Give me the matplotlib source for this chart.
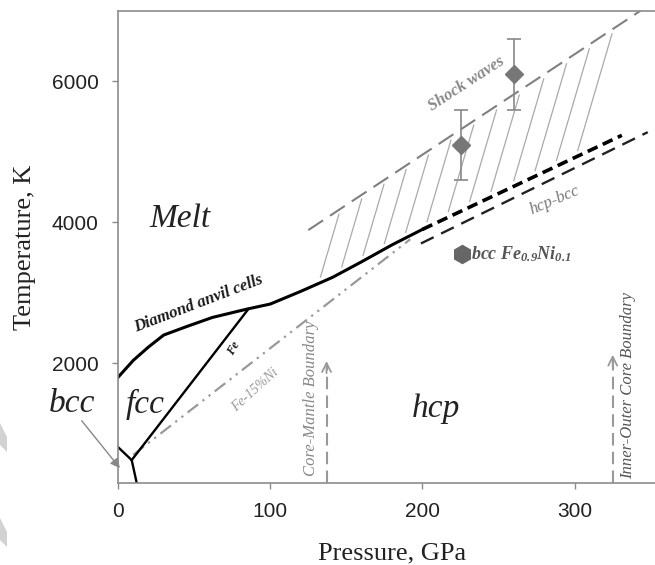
import numpy as np
import matplotlib
matplotlib.use('Agg')
import matplotlib.pyplot as plt
from matplotlib.patches import Polygon

plt.rcParams['font.family'] = ['Liberation Serif', 'DejaVu Serif']
plt.rcParams['mathtext.fontset'] = 'custom'
plt.rcParams['mathtext.rm'] = 'Liberation Serif:italic:bold'
plt.rcParams['mathtext.it'] = 'Liberation Serif:italic:bold'
plt.rcParams['mathtext.bf'] = 'Liberation Serif:italic:bold'

# melting curve from diamond anvil cells (solid) and its extrapolation (thick dashes)
melt_p = [0, 10, 20, 30, 45, 62, 85, 100, 120, 141, 160, 180, 200]
melt_t = [1800, 2040, 2230, 2400, 2520, 2650, 2770, 2840, 3020, 3220, 3440, 3680, 3900]
melt_ext_p = [200, 331]
melt_ext_t = [3900, 5235]

# hcp-bcc boundary
hcpbcc_p = [199, 348]
hcpbcc_t = [3700, 5280]

# upper bound of shock wave melting
shock_p = [125, 343]
shock_t = [3890, 7000]

# fcc-hcp for Fe and Fe-15%Ni
fe_p = [9, 85.5]
fe_t = [625, 2765]
feni_p = [10, 192]
feni_t = [700, 3760]

# bcc boundaries near the origin
bcc_fcc_p = [0, 9]
bcc_fcc_t = [810, 625]
bcc_hcp_p = [9, 12.3]
bcc_hcp_t = [625, 300]

# shock wave points
sw_p = [225, 260]
sw_t = [5100, 6100]
sw_err = [500, 500]

# bcc Fe0.9Ni0.1
bccni_p = [226]
bccni_t = [3546]

# core boundaries (pressure, top of arrow)
cmb_p, cmb_t = 137, 2070
icb_p, icb_t = 325, 2160

# hatch lines of the shock wave band (start pressures)
hatch_p = [133, 147, 161, 175, 189, 203, 217, 231, 245, 260, 274, 288, 302]

fig = plt.figure(figsize=(6.55, 5.65), dpi=100)
ax = fig.add_axes([118 / 655, 82 / 565, 548 / 655, 472 / 565])
ax.set_xlim(0, 360)
ax.set_ylim(300, 7000)

# watermark bits on the left edge
for y0 in (423, 518):
    pts = [(0, 1 - y0 / 565), (7 / 655, 1 - (y0 + 14) / 565),
           (7 / 655, 1 - (y0 + 29) / 565), (0, 1 - (y0 + 22) / 565)]
    fig.patches.append(Polygon(pts, closed=True, transform=fig.transFigure,
                               color='#d2d2d2', lw=0))

# hatching between melting curve and shock upper bound
low_p = melt_p + melt_ext_p[1:]
low_t = melt_t + melt_ext_t[1:]
s = 73.5
k = (shock_t[1] - shock_t[0]) / (shock_p[1] - shock_p[0])
for p0 in hatch_p:
    t0 = np.interp(p0, low_p, low_t) + 80
    p1 = (shock_t[0] - 60 - k * shock_p[0] - t0 + s * p0) / (s - k)
    t1 = t0 + s * (p1 - p0)
    ax.plot([p0, p1], [t0, t1], color='#aaaaaa', lw=0.9)

ax.plot(shock_p, shock_t, color='#808080', lw=1.5, dashes=(8.5, 4))
ax.plot(melt_p, melt_t, color='black', lw=2.2)
ax.plot(melt_ext_p, melt_ext_t, color='black', lw=2.6, dashes=(3, 1.6))
ax.plot(hcpbcc_p, hcpbcc_t, color='#222222', lw=1.7, dashes=(6, 3.5))
ax.plot(feni_p, feni_t, color='#999999', lw=1.6, dashes=(6, 2.5, 1, 2.5, 1, 2.5))
ax.plot(fe_p, fe_t, color='black', lw=1.7)
ax.plot(bcc_fcc_p, bcc_fcc_t, color='black', lw=1.7)
ax.plot(bcc_hcp_p, bcc_hcp_t, color='black', lw=1.7)

ax.errorbar(sw_p, sw_t, yerr=sw_err, fmt='D', color='#777777', ms=9,
            ecolor='#888888', elinewidth=1.2, capsize=5, capthick=1.2)
ax.plot(bccni_p, bccni_t, 'h', color='#666666', ms=13)

# core boundary arrows
for p, t in ((cmb_p, cmb_t), (icb_p, icb_t)):
    ax.plot([p, p], [300, t - 60], color='#999999', lw=1.5, dashes=(6, 3))
    ax.annotate('', xy=(p, t), xytext=(p, t - 250),
                arrowprops=dict(arrowstyle='->', color='#999999', lw=1.3,
                                mutation_scale=16))

# labels
ax.text(41, 4050, 'Melt', fontsize=24, style='italic', ha='center', va='center',
        color='#222222')
ax.text(18, 1420, 'fcc', fontsize=24, style='italic', ha='center', va='center',
        color='#222222')
ax.text(209, 1360, 'hcp', fontsize=24, style='italic', ha='center', va='center',
        color='#222222')
ax.text(-30, 1430, 'bcc', fontsize=24, style='italic', ha='center', va='center',
        color='#222222', clip_on=False)
ax.annotate('', xy=(2.4, 480), xytext=(-25, 1215), annotation_clip=False,
            arrowprops=dict(arrowstyle='-|>', color='#888888', lw=1.0,
                            mutation_scale=14))

ax.text(53, 2850, 'Diamond anvil cells', fontsize=12, style='italic',
        weight='bold', rotation=21, ha='center', va='center', color='#1a1a1a')
ax.text(76, 2210, 'Fe', fontsize=9, style='italic', weight='bold',
        rotation=60, ha='center', va='center', color='#1a1a1a')
ax.text(90, 1620, 'Fe-15%Ni', fontsize=10, style='italic', rotation=42,
        ha='center', va='center', color='#999999')
ax.text(229, 5970, 'Shock waves', fontsize=12, style='italic', weight='bold',
        rotation=33, ha='center', va='center', color='#888888')
ax.text(287, 4310, 'hcp-bcc', fontsize=12, style='italic', rotation=23,
        ha='center', va='center', color='#777777')
ax.text(232, 3546, r'bcc Fe$_{0.9}$Ni$_{0.1}$', fontsize=13, style='italic',
        weight='bold', ha='left', va='center', color='#555555')
ax.text(127, 1500, 'Core-Mantle Boundary', fontsize=12, style='italic',
        rotation=90, ha='center', va='center', color='#888888')
ax.text(335, 1690, 'Inner-Outer Core Boundary', fontsize=12, style='italic',
        rotation=90, ha='center', va='center', color='#555555')

# axes styling
for side in ('left', 'bottom', 'top'):
    ax.spines[side].set_color('#8c8c8c')
    ax.spines[side].set_linewidth(1.2)
ax.spines['right'].set_visible(False)
ax.set_xticks([0, 100, 200, 300])
ax.set_yticks([2000, 4000, 6000])
ax.tick_params(colors='#8c8c8c', length=4, width=1, pad=10, labelsize=15,
               labelcolor='#222222')
for lab in ax.get_xticklabels() + ax.get_yticklabels():
    lab.set_family('Liberation Sans')
ax.set_xlabel('Pressure, GPa', fontsize=19, labelpad=15, color='#222222')
ax.set_ylabel('Temperature, K', fontsize=19, labelpad=11, color='#222222')

fig.savefig('out.png', dpi=100)
